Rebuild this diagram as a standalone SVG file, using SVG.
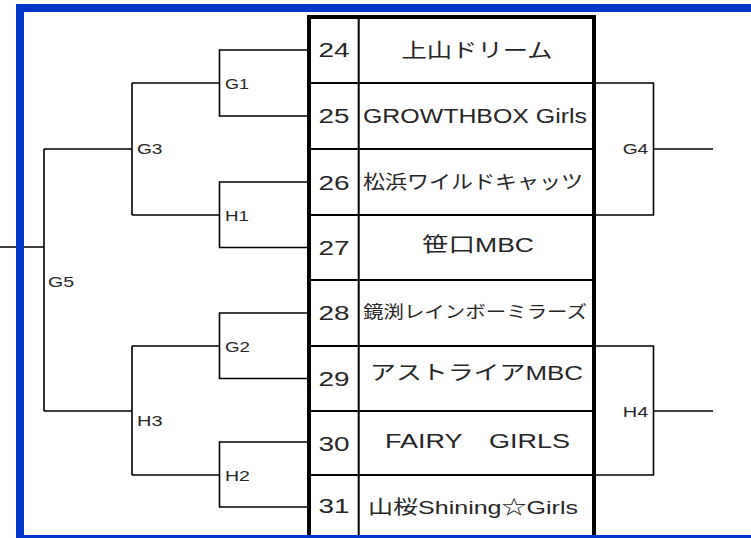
<svg xmlns="http://www.w3.org/2000/svg" width="751" height="538" viewBox="0 0 751 538">
<style>
.ln{fill:none;stroke:#000;stroke-width:1.6}
.grid{stroke:#000;stroke-width:2}
.thick{stroke:#000;stroke-width:4}
text{font-family:"Liberation Sans","Noto Sans CJK JP",sans-serif;fill:#262626}
.num{font-size:20px;text-anchor:middle}
.name{font-size:20px;text-anchor:middle}
.lbl{font-size:14px}
.lblr{font-size:14px;text-anchor:end}
</style>
<rect x="0" y="0" width="751" height="538" fill="#fff"/>
<g id="connectors">
<path class="ln" d="M307 50H219.5V116H307M132 83H219.5"/>
<path class="ln" d="M307 182H219.5V247.5H307M132 215H219.5"/>
<path class="ln" d="M132 83V215M44 149H132"/>
<path class="ln" d="M307 313H219.5V378.5H307M132 346H219.5"/>
<path class="ln" d="M307 442H219.5V507H307M132 475H219.5"/>
<path class="ln" d="M132 346V475M44 411H132"/>
<path class="ln" d="M44 149V411M0 247H44"/>
<path class="ln" d="M594 83H653.5V215H594M653.5 149H713"/>
<path class="ln" d="M594 346H653.5V475H594M653.5 411H713"/>
</g>
<g id="table">
<line class="grid" x1="309" y1="83" x2="594" y2="83"/>
<line class="grid" x1="309" y1="149" x2="594" y2="149"/>
<line class="grid" x1="309" y1="215" x2="594" y2="215"/>
<line class="grid" x1="309" y1="280" x2="594" y2="280"/>
<line class="grid" x1="309" y1="346" x2="594" y2="346"/>
<line class="grid" x1="309" y1="411" x2="594" y2="411"/>
<line class="grid" x1="309" y1="475" x2="594" y2="475"/>
<line class="grid" x1="358.7" y1="17" x2="358.7" y2="538"/>
<line class="thick" x1="309" y1="15" x2="309" y2="538"/>
<line class="thick" x1="594" y1="15" x2="594" y2="538"/>
<line class="thick" x1="307" y1="17" x2="596" y2="17"/>
</g>
<g id="team24"><text class="num" x="334" y="57" textLength="31" lengthAdjust="spacingAndGlyphs">24</text><text class="name" x="477" y="58" textLength="151" lengthAdjust="spacingAndGlyphs">上山ドリーム</text></g>
<g id="team25"><text class="num" x="334" y="123" textLength="31" lengthAdjust="spacingAndGlyphs">25</text><text class="name" x="475" y="123" textLength="224" lengthAdjust="spacingAndGlyphs">GROWTHBOX Girls</text></g>
<g id="team26"><text class="num" x="334" y="190" textLength="31" lengthAdjust="spacingAndGlyphs">26</text><text class="name" x="473" y="189" style="font-size:19px" textLength="220" lengthAdjust="spacingAndGlyphs">松浜ワイルドキャッツ</text></g>
<g id="team27"><text class="num" x="334" y="255" textLength="31" lengthAdjust="spacingAndGlyphs">27</text><text class="name" x="478" y="252" textLength="112" lengthAdjust="spacingAndGlyphs">笹口MBC</text></g>
<g id="team28"><text class="num" x="334" y="320" textLength="31" lengthAdjust="spacingAndGlyphs">28</text><text class="name" x="475" y="318" style="font-size:17px" textLength="224" lengthAdjust="spacingAndGlyphs">鏡渕レインボーミラーズ</text></g>
<g id="team29"><text class="num" x="334" y="386" textLength="31" lengthAdjust="spacingAndGlyphs">29</text><text class="name" x="476.5" y="380" textLength="213" lengthAdjust="spacingAndGlyphs">アストライアMBC</text></g>
<g id="team30"><text class="num" x="334" y="451" textLength="31" lengthAdjust="spacingAndGlyphs">30</text><text class="name" x="477.5" y="448" textLength="185" lengthAdjust="spacingAndGlyphs">FAIRY　GIRLS</text></g>
<g id="team31"><text class="num" x="334" y="513" textLength="31" lengthAdjust="spacingAndGlyphs">31</text><text class="name" x="473" y="514" style="font-size:19px" textLength="210" lengthAdjust="spacingAndGlyphs">山桜Shining☆Girls</text></g>
<g id="G1"><text class="lbl" x="225" y="88.5" textLength="24" lengthAdjust="spacingAndGlyphs">G1</text></g>
<g id="H1"><text class="lbl" x="225" y="221" textLength="24" lengthAdjust="spacingAndGlyphs">H1</text></g>
<g id="G2"><text class="lbl" x="225" y="352.3" textLength="25" lengthAdjust="spacingAndGlyphs">G2</text></g>
<g id="H2"><text class="lbl" x="225" y="481.3" textLength="25" lengthAdjust="spacingAndGlyphs">H2</text></g>
<g id="G3"><text class="lbl" x="137" y="154.3" textLength="25.5" lengthAdjust="spacingAndGlyphs">G3</text></g>
<g id="H3"><text class="lbl" x="137" y="426.3" textLength="25.5" lengthAdjust="spacingAndGlyphs">H3</text></g>
<g id="G5"><text class="lbl" x="48" y="286.7" textLength="26" lengthAdjust="spacingAndGlyphs">G5</text></g>
<g id="G4"><text class="lblr" x="648.3" y="154" textLength="25.6" lengthAdjust="spacingAndGlyphs">G4</text></g>
<g id="H4"><text class="lblr" x="648.3" y="417" textLength="25.6" lengthAdjust="spacingAndGlyphs">H4</text></g>
<rect x="20" y="8" width="800" height="531" fill="none" stroke="#0336c9" stroke-width="8"/>
</svg>
